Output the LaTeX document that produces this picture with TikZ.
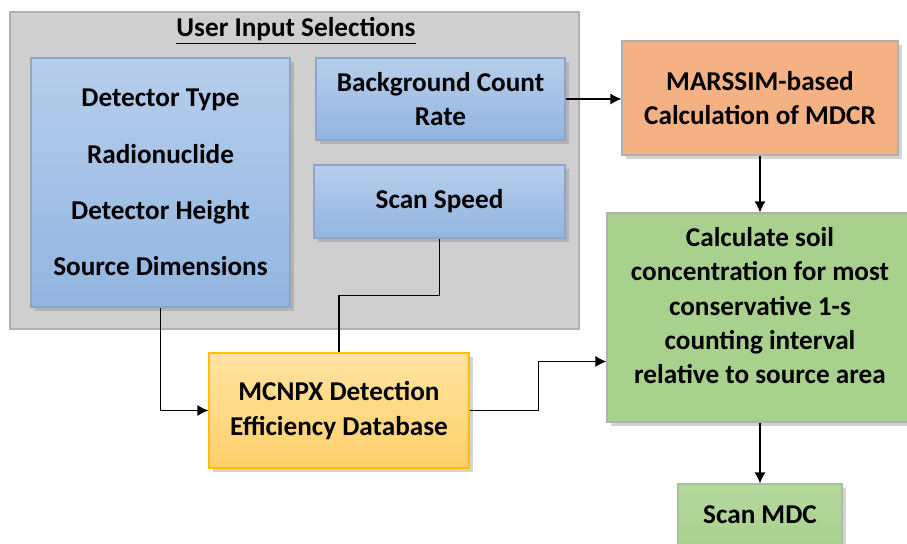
\documentclass[tikz,border=0pt]{standalone}
\usepackage{fontspec}
\setmainfont{Carlito}
\usepackage{tikz}
\usetikzlibrary{positioning,arrows.meta,shadows}
\definecolor{bluetop}{HTML}{B6CEEB}
\definecolor{bluebot}{HTML}{92B5E0}
\definecolor{blueline}{HTML}{8EA6C4}
\definecolor{grayfill}{HTML}{CFCFCF}
\definecolor{grayline}{HTML}{B0B0B0}
\definecolor{orangefill}{HTML}{F4B183}
\definecolor{greenfill}{HTML}{A9D18E}
\definecolor{greentop}{HTML}{B5D89E}
\definecolor{yellowtop}{HTML}{FFE3A1}
\definecolor{yellowbot}{HTML}{FFD06A}
\definecolor{yellowline}{HTML}{FFC000}
\tikzset{
  flowarrow/.style={-{Latex[length=5.5pt,width=5.5pt]}, line width=0.6pt},
  flowline/.style={line width=0.6pt},
  shade/.style={drop shadow={opacity=0.35, shadow xshift=2pt, shadow yshift=-2pt}},
  groupbox/.style={draw=grayline, fill=grayfill, line width=0.6pt},
  inputbox/.style={draw=blueline, top color=bluetop, bottom color=bluebot, line width=0.6pt, shade, align=center},
  calcbox/.style={draw=grayline, fill=orangefill, line width=0.6pt, shade, align=center},
  resultbox/.style={draw=grayline, fill=greenfill, line width=0.6pt, shade, align=center},
  finalbox/.style={draw=grayline!60!greenfill, top color=greentop, bottom color=greenfill, line width=0.6pt, shade, align=center},
  databox/.style={draw=yellowline, top color=yellowtop, bottom color=yellowbot, line width=0.6pt, shade, align=center}
}

\begin{document}
\begin{tikzpicture}[x=0.5pt, y=-0.5pt, every node/.style={font=\fontsize{13.6pt}{17.2pt}\selectfont\bfseries, inner sep=0pt}]
  \useasboundingbox (0,0) rectangle (907,543);
  \node[groupbox, minimum width=284.5pt, minimum height=158.5pt] (group) at (294.5,170.5) {};
  \node (title) at (296,31) {\underline{User Input Selections}};
  \node[inputbox, minimum width=129.5pt, minimum height=124.5pt] (inputs) at (160.5,182.5)
    {Detector Type\\[11pt] Radionuclide\\[11pt] Detector Height\\[11pt] Source Dimensions};
  \node[inputbox, minimum width=124.5pt, minimum height=41pt] (bkg) at (440.5,99) {Background Count\\ Rate};
  \node[inputbox, minimum width=125.5pt, minimum height=36.5pt] (speed) at (439.5,201.5) {\raisebox{-1.5pt}{Scan Speed}};
  \node[calcbox, minimum width=138pt, minimum height=57pt] (marssim) at (760,98) {MARSSIM-based\\ Calculation of MDCR};
  \node[resultbox, minimum width=153pt, minimum height=104.5pt] (calc) at (760,317.5)
    {Calculate soil\\ concentration for most\\ conservative 1-s\\ counting interval\\ relative to source area\rule[-12pt]{0pt}{0pt}};
  \node[finalbox, minimum width=82pt, minimum height=32pt] (mdc) at (760,516) {\raisebox{1pt}{Scan MDC}};
  \node[databox, minimum width=130pt, minimum height=57.5pt] (mcnpx) at (339,410.5) {MCNPX Detection\\ Efficiency Database};
  \draw[flowarrow] (bkg.east) -- (bkg.east -| marssim.west);
  \draw[flowarrow] (marssim.south) -- (calc.north);
  \draw[flowarrow] (calc.south) -- (mdc.north);
  \draw[flowarrow] (inputs.south) |- (mcnpx.west);
  \draw[flowline] (speed.south) -- ++(0,57) -| (mcnpx.north);
  \draw[flowarrow] (mcnpx.east) -- ++(69,0) |- ([yshift=-22pt]calc.west);
\end{tikzpicture}
\end{document}
